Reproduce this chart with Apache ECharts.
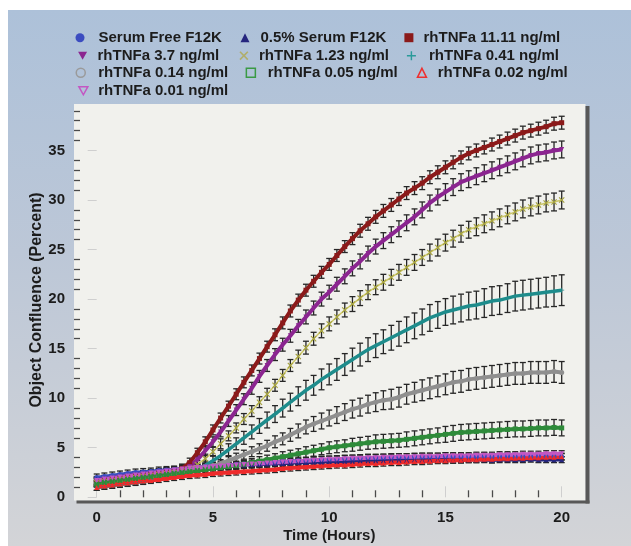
<!DOCTYPE html>
<html>
<head>
<meta charset="utf-8">
<script src="https://cdn.jsdelivr.net/npm/echarts@6.0.0/dist/echarts.min.js"></script>
<style>
html,body{margin:0;padding:0;background:#fff;}
#chart{width:631px;height:546px;}
</style>
</head>
<body>
<div id="chart"></div>
<script>
// ---------------- DATA ----------------
const times = [0,0.33,0.67,1,1.33,1.67,2,2.33,2.67,3,3.33,3.67,4,4.33,4.67,5,5.33,5.67,6,6.33,6.67,7,7.33,7.67,8,8.33,8.67,9,9.33,9.67,10,10.33,10.67,11,11.33,11.67,12,12.33,12.67,13,13.33,13.67,14,14.33,14.67,15,15.33,15.67,16,16.33,16.67,17,17.33,17.67,18,18.33,18.67,19,19.33,19.67,20];

const seriesNames = ['Serum Free F12K','0.5% Serum F12K','rhTNFa 11.11 ng/ml','rhTNFa 3.7 ng/ml','rhTNFa 1.23 ng/ml','rhTNFa 0.41 ng/ml','rhTNFa 0.14 ng/ml','rhTNFa 0.05 ng/ml','rhTNFa 0.02 ng/ml','rhTNFa 0.01 ng/ml'];

const serumFree = [2.0,2.1,2.2,2.3,2.4,2.5,2.55,2.6,2.7,2.75,2.8,2.9,3.0,
  3.05,3.1,3.15,3.2,3.25,3.3,3.35,3.4,3.45,3.5,3.55,3.6,
  3.65,3.7,3.7,3.75,3.8,3.8,3.85,3.9,3.9,3.95,4.0,4.0,
  4.0,4.05,4.05,4.05,4.1,4.1,4.1,4.1,4.15,4.1,4.1,4.1,
  4.1,4.15,4.1,4.1,4.15,4.1,4.1,4.1,4.15,4.1,4.1,4.1];
const serum05 = [1.8,1.9,2.0,2.1,2.2,2.3,2.4,2.45,2.55,2.6,2.7,2.8,2.9,
  2.95,3.0,3.05,3.1,3.15,3.2,3.25,3.3,3.3,3.35,3.4,3.4,
  3.45,3.5,3.5,3.55,3.55,3.6,3.6,3.65,3.65,3.7,3.7,3.7,
  3.7,3.75,3.75,3.75,3.8,3.75,3.8,3.8,3.8,3.75,3.8,3.8,
  3.8,3.8,3.75,3.8,3.8,3.8,3.8,3.85,3.8,3.8,3.8,3.8];
const tnf1111 = [1.5,1.7,1.8,1.9,2.0,2.1,2.2,2.3,2.4,2.5,2.6,2.9,
  3.5,4.5,5.6,6.8,8.0,9.2,10.4,11.6,12.8,14.0,15.2,16.4,17.6,18.8,19.9,20.9,21.8,22.7,23.5,24.4,25.3,26.1,26.9,27.6,28.3,28.9,29.5,30.1,30.7,31.2,31.7,32.3,32.8,33.3,33.8,34.3,34.7,35.0,35.3,35.6,35.9,36.2,36.5,36.8,37.0,37.2,37.4,37.7,37.8];
const tnf37 = [1.6,1.8,1.9,2.0,2.1,2.2,2.3,2.4,2.5,2.6,2.7,2.8,
  3.1,3.8,4.7,5.6,6.6,7.7,8.8,9.9,11.0,12.2,13.3,14.4,15.4,16.3,17.3,18.2,19.1,20.0,20.7,21.5,22.3,23.1,23.8,24.6,25.3,25.9,26.5,27.1,27.7,28.3,29.0,29.7,30.3,30.8,31.3,31.8,32.1,32.4,32.7,33.0,33.3,33.6,33.9,34.2,34.5,34.7,34.8,35.0,35.1];
const tnf123 = [1.5,1.6,1.7,1.8,1.9,2.0,2.1,2.2,2.3,2.4,2.5,2.7,
  2.9,3.3,3.9,4.6,5.4,6.2,7.0,7.9,8.7,9.6,10.4,11.3,12.3,13.3,14.2,15.1,16.0,16.8,17.5,18.2,18.9,19.5,20.1,20.7,21.2,21.7,22.2,22.7,23.2,23.7,24.2,24.7,25.2,25.7,26.1,26.6,27.0,27.3,27.6,27.9,28.2,28.5,28.8,29.1,29.3,29.5,29.7,29.8,30.0];
const tnf041 = [1.0,1.1,1.2,1.3,1.4,1.5,1.6,1.8,2.0,2.2,2.4,2.6,
  2.8,2.9,3.2,3.7,4.2,4.8,5.4,6.0,6.6,7.2,7.8,8.4,9.0,9.6,10.2,10.8,11.3,11.9,12.4,12.9,13.4,13.9,14.4,14.9,15.3,15.7,16.1,16.5,16.9,17.3,17.7,18.1,18.4,18.7,18.9,19.1,19.3,19.4,19.6,19.8,19.9,20.1,20.3,20.4,20.5,20.6,20.7,20.8,20.9];
const tnf014 = [1.4,1.5,1.6,1.7,1.8,1.9,2.0,2.1,2.2,2.3,2.5,2.6,
  2.8,2.9,3.0,3.2,3.4,3.7,4.0,4.3,4.6,4.9,5.2,5.6,5.9,6.3,6.7,7.1,7.4,7.7,8.0,8.3,8.6,8.9,9.1,9.4,9.6,9.8,9.9,10.1,10.4,10.6,10.8,11.0,11.2,11.4,11.6,11.7,11.9,12.0,12.1,12.2,12.3,12.4,12.5,12.5,12.6,12.6,12.6,12.7,12.6];
const tnf005 = [1.3,1.5,1.6,1.7,1.8,1.9,2.0,2.1,2.2,2.3,2.4,2.5,
  2.6,2.7,2.8,2.9,3.0,3.1,3.2,3.35,3.5,3.65,3.8,3.95,4.1,4.25,4.4,4.55,4.7,4.85,5.0,5.1,5.2,5.3,5.4,5.5,5.6,5.65,5.7,5.75,5.85,5.95,6.05,6.15,6.25,6.35,6.45,6.55,6.6,6.65,6.7,6.75,6.8,6.85,6.9,6.9,6.95,7.0,7.0,7.05,7.0];
const tnf002 = [1.0,1.15,1.25,1.35,1.45,1.55,1.65,1.7,1.8,1.9,2.0,2.1,2.2,
  2.25,2.3,2.4,2.45,2.5,2.55,2.6,2.65,2.7,2.75,2.8,2.9,
  2.95,3.0,3.05,3.1,3.15,3.2,3.25,3.25,3.3,3.35,3.4,3.4,
  3.45,3.5,3.5,3.55,3.6,3.6,3.65,3.7,3.7,3.75,3.75,3.8,
  3.8,3.85,3.85,3.9,3.9,3.95,3.95,4.0,4.0,4.05,4.05,4.1];
const tnf001 = [1.7,1.85,1.95,2.05,2.15,2.25,2.35,2.45,2.55,2.65,2.75,2.85,2.95,
  3.0,3.05,3.1,3.15,3.2,3.25,3.3,3.35,3.4,3.45,3.5,3.55,
  3.6,3.65,3.7,3.75,3.8,3.85,3.85,3.9,3.95,3.95,4.0,4.0,
  4.05,4.05,4.1,4.1,4.1,4.15,4.15,4.15,4.2,4.2,4.2,4.2,
  4.25,4.25,4.25,4.3,4.3,4.3,4.35,4.35,4.35,4.4,4.4,4.4];

// error half-widths (percent)
const errSF = [0.35,0.35,0.35,0.35,0.35,0.35,0.35,0.35,0.35,0.35,
  0.35,0.35,0.35,0.35,0.35,0.35,0.35,0.35,0.35,0.35,
  0.35,0.35,0.35,0.35,0.35,0.35,0.35,0.35,0.35,0.35,
  0.35,0.35,0.35,0.35,0.35,0.35,0.35,0.35,0.35,0.35,
  0.35,0.35,0.35,0.35,0.35,0.35,0.35,0.35,0.35,0.35,
  0.35,0.35,0.35,0.35,0.35,0.35,0.35,0.35,0.35,0.35,0.35];
const err05 = [0.3,0.3,0.3,0.3,0.3,0.3,0.3,0.3,0.3,0.3,
  0.3,0.3,0.3,0.3,0.3,0.3,0.3,0.3,0.3,0.3,
  0.3,0.3,0.3,0.3,0.3,0.3,0.3,0.3,0.3,0.3,
  0.3,0.3,0.3,0.3,0.3,0.3,0.3,0.3,0.3,0.3,
  0.3,0.3,0.3,0.3,0.3,0.3,0.3,0.3,0.3,0.3,
  0.3,0.3,0.3,0.3,0.3,0.3,0.3,0.3,0.3,0.3,0.3];
const err1111 = [0.4,0.4,0.4,0.4,0.4,0.4,0.4,0.4,0.4,0.4,0.4,0.45,0.45,
  0.45,0.5,0.5,0.5,0.5,0.55,0.55,0.55,0.55,0.55,0.6,0.6,
  0.6,0.6,0.6,0.6,0.6,0.6,0.6,0.6,0.6,0.65,0.65,0.65,
  0.65,0.65,0.65,0.65,0.65,0.65,0.65,0.65,0.65,0.65,0.65,0.65,
  0.65,0.65,0.65,0.65,0.65,0.65,0.65,0.65,0.65,0.65,0.65,0.65];
const err37 = [0.4,0.4,0.4,0.4,0.4,0.4,0.4,0.4,0.4,0.4,0.4,0.45,0.45,
  0.45,0.5,0.5,0.5,0.55,0.55,0.55,0.6,0.6,0.6,0.6,0.65,
  0.65,0.65,0.7,0.7,0.7,0.7,0.7,0.75,0.75,0.75,0.75,0.75,
  0.8,0.8,0.8,0.8,0.8,0.8,0.8,0.8,0.85,0.85,0.85,0.85,
  0.85,0.85,0.85,0.85,0.85,0.85,0.85,0.85,0.85,0.85,0.85,0.85];
const err123 = [0.35,0.35,0.35,0.35,0.35,0.35,0.35,0.35,0.35,0.35,0.35,0.4,0.4,
  0.4,0.45,0.45,0.5,0.5,0.5,0.55,0.55,0.55,0.6,0.6,0.6,
  0.6,0.65,0.65,0.65,0.7,0.7,0.7,0.7,0.75,0.75,0.75,0.75,
  0.8,0.8,0.8,0.8,0.8,0.8,0.85,0.85,0.85,0.85,0.85,0.85,
  0.9,0.9,0.9,0.9,0.9,0.9,0.9,0.9,0.9,0.9,0.9,0.9];
const err041 = [0.3,0.3,0.3,0.3,0.3,0.3,0.3,0.3,0.3,0.3,0.3,0.35,0.35,
  0.4,0.45,0.5,0.55,0.6,0.6,0.65,0.7,0.75,0.8,0.85,0.9,
  0.9,0.95,1.0,1.0,1.05,1.05,1.1,1.1,1.15,1.15,1.2,1.2,
  1.2,1.25,1.25,1.3,1.3,1.3,1.35,1.35,1.35,1.4,1.4,1.4,
  1.4,1.45,1.45,1.45,1.45,1.5,1.5,1.5,1.5,1.5,1.55,1.55];
const err014 = [0.3,0.3,0.3,0.3,0.3,0.3,0.3,0.3,0.3,0.3,0.3,0.3,0.3,
  0.3,0.35,0.35,0.4,0.4,0.45,0.45,0.5,0.5,0.55,0.6,0.6,
  0.65,0.7,0.7,0.75,0.8,0.8,0.85,0.85,0.9,0.9,0.9,0.95,
  0.95,1.0,1.0,1.0,1.0,1.05,1.05,1.05,1.05,1.1,1.1,1.1,
  1.1,1.1,1.1,1.1,1.1,1.1,1.1,1.1,1.1,1.1,1.1,1.1];
const err005 = [0.3,0.3,0.3,0.3,0.3,0.3,0.3,0.3,0.3,0.3,0.3,0.3,0.3,
  0.3,0.3,0.35,0.35,0.35,0.4,0.4,0.4,0.45,0.45,0.45,0.5,
  0.5,0.5,0.55,0.55,0.55,0.6,0.6,0.6,0.65,0.65,0.65,0.7,
  0.7,0.7,0.7,0.75,0.75,0.75,0.75,0.75,0.8,0.8,0.8,0.8,
  0.8,0.8,0.8,0.8,0.8,0.8,0.8,0.8,0.8,0.8,0.8,0.8];
const err002 = [0.3,0.3,0.3,0.3,0.3,0.3,0.3,0.3,0.3,0.3,
  0.3,0.3,0.3,0.3,0.3,0.3,0.3,0.3,0.3,0.3,
  0.3,0.3,0.3,0.3,0.3,0.3,0.3,0.3,0.3,0.3,
  0.3,0.3,0.3,0.3,0.3,0.3,0.3,0.3,0.3,0.3,
  0.3,0.3,0.3,0.3,0.3,0.3,0.3,0.3,0.3,0.3,
  0.3,0.3,0.3,0.3,0.3,0.3,0.3,0.3,0.3,0.3,0.3];
const err001 = [0.3,0.3,0.3,0.3,0.3,0.3,0.3,0.3,0.3,0.3,
  0.3,0.3,0.3,0.3,0.3,0.3,0.3,0.3,0.3,0.3,
  0.3,0.3,0.3,0.3,0.3,0.3,0.3,0.3,0.3,0.3,
  0.3,0.3,0.3,0.3,0.3,0.3,0.3,0.3,0.3,0.3,
  0.3,0.3,0.3,0.3,0.3,0.3,0.3,0.3,0.3,0.3,
  0.3,0.3,0.3,0.3,0.3,0.3,0.3,0.3,0.3,0.3,0.3];

const values = [serumFree, serum05, tnf1111, tnf37, tnf123, tnf041, tnf014, tnf005, tnf002, tnf001];
const errors = [errSF, err05, err1111, err37, err123, err041, err014, err005, err002, err001];

// ---------------- STYLES ----------------
const INV_TRI = 'path://M0,0L10,0L5,9Z';
const X_MARK = 'path://M0,1.3L1.3,0L5,3.7L8.7,0L10,1.3L6.3,5L10,8.7L8.7,10L5,6.3L1.3,10L0,8.7L3.7,5Z';
const PLUS = 'path://M4.2,0H5.8V4.2H10V5.8H5.8V10H4.2V5.8H0V4.2H4.2Z';

const styles = [
  {color:'#3b4cc0', line:'#3b4cc0', symbol:'circle', width:3.5, size:5, lg:{icon:'circle', fill:'#3b4cc0'}},
  {color:'#25257e', line:'#25257e', symbol:'triangle', width:3.5, size:5, lg:{icon:'triangle', fill:'#25257e'}},
  {color:'#8b1a1a', line:'#8b1a1a', symbol:'rect', width:4, size:5, lg:{icon:'rect', fill:'#8b1a1a'}},
  {color:'#8b2590', line:'#8b2590', symbol:INV_TRI, width:4, size:5, lg:{icon:INV_TRI, fill:'#8b2590'}},
  {color:'#a3a03c', line:'#cdc86a', symbol:X_MARK, width:1.5, size:6, lg:{icon:X_MARK, fill:'#b0ae6c'}},
  {color:'#1e8c8c', line:'#1e8c8c', symbol:PLUS, width:3.5, size:5, lg:{icon:PLUS, fill:'#2a9a9a'}},
  {color:'#8f8f8f', line:'#8f8f8f', symbol:'circle', width:4, size:5, lg:{icon:'circle', stroke:'#9a9a9a'}},
  {color:'#2e8b3a', line:'#2e8b3a', symbol:'rect', width:4, size:5, lg:{icon:'rect', stroke:'#3a9a44'}},
  {color:'#ee2b2b', line:'#ee2b2b', symbol:'triangle', width:4, size:5, lg:{icon:'triangle', stroke:'#ee3030'}},
  {color:'#c357c3', line:'#c357c3', symbol:INV_TRI, width:4, size:5, lg:{icon:INV_TRI, stroke:'#c357c3'}}
];

// legend item placement: marker centre x, text start x, row centre y
const legendPos = [
  {mx:80, tx:98.5, cy:37.7},
  {mx:245, tx:260.5, cy:37.7},
  {mx:408.9, tx:423.5, cy:37.7},
  {mx:82.6, tx:97.5, cy:55.7},
  {mx:243.9, tx:259, cy:55.7},
  {mx:411.4, tx:429, cy:55.7},
  {mx:80, tx:97.5, cy:72.8},
  {mx:250.1, tx:267, cy:72.8},
  {mx:421.2, tx:437, cy:72.8},
  {mx:82.6, tx:97.5, cy:90.7}
];

const FONT = "'Liberation Sans', Arial, sans-serif";
const TXT = '#1c1c1c';
const ICON = 9;
const BASE_GAP = 5;

const legends = seriesNames.map((name, i) => {
  const p = legendPos[i], lg = styles[i].lg;
  const itemStyle = lg.fill ? {color: lg.fill, borderWidth: 0}
                            : {color: 'rgba(0,0,0,0)', borderColor: lg.stroke, borderWidth: 1.5};
  const extra = Math.max(0, p.tx - (p.mx + ICON / 2) - BASE_GAP);
  return {
    left: p.mx - ICON / 2, top: p.cy - 9, padding: 0,
    itemWidth: ICON, itemHeight: ICON,
    itemTextGap: BASE_GAP,
    textStyle: {color: TXT, fontSize: 15, fontWeight: 'bold', fontFamily: FONT, lineHeight: 18,
                padding: [0, 0, 0, extra]},
    data: [{name: name, icon: lg.icon, itemStyle: itemStyle}]
  };
});

const lineSeries = seriesNames.map((name, i) => ({
  name: name, type: 'line', z: 3,
  data: times.map((t, k) => [t, values[i][k]]),
  symbol: styles[i].symbol, symbolSize: styles[i].size, showSymbol: true,
  itemStyle: {color: styles[i].color},
  lineStyle: {color: styles[i].line, width: styles[i].width},
  emphasis: {disabled: true}
}));

const errSeries = seriesNames.map((name, i) => ({
  name: name, type: 'custom', z: 2,
  data: times.map((t, k) => [t, values[i][k], errors[i][k]]),
  encode: {x: 0, y: 1},
  renderItem: function (params, api) {
    const x = api.value(0), y = api.value(1), e = api.value(2);
    const top = api.coord([x, y + e]);
    const bot = api.coord([x, y - e]);
    const hw = 3;
    const st = {stroke: '#262626', lineWidth: 1.3};
    return {
      type: 'group',
      children: [
        {type: 'line', shape: {x1: top[0], y1: top[1], x2: bot[0], y2: bot[1]}, style: st},
        {type: 'line', shape: {x1: top[0] - hw, y1: top[1], x2: top[0] + hw, y2: top[1]}, style: st},
        {type: 'line', shape: {x1: bot[0] - hw, y1: bot[1], x2: bot[0] + hw, y2: bot[1]}, style: st}
      ]
    };
  },
  emphasis: {disabled: true}
}));

const chart = echarts.init(document.getElementById('chart'), null, {renderer: 'canvas'});
chart.setOption({
  animation: false,
  backgroundColor: '#ffffff',
  legend: legends,
  grid: {left: 96.7, top: 100.9, width: 465, height: 396.4, containLabel: false},
  xAxis: {
    type: 'value', min: 0, max: 20, interval: 5, offset: 3,
    axisLine: {show: false},
    axisTick: {show: true, inside: true, length: 11, lineStyle: {color: '#cfcfcf', width: 1}},
    minorTick: {show: true, splitNumber: 5, length: 7, lineStyle: {color: '#4a4a4a', width: 1.3}},
    splitLine: {show: false},
    axisLabel: {color: TXT, fontSize: 15, fontWeight: 'bold', fontFamily: FONT, margin: 10}
  },
  yAxis: [
    {
      type: 'value', min: 0, max: 40, interval: 5, offset: 22.7,
      axisLine: {show: false},
      axisTick: {show: true, inside: false, length: 9, lineStyle: {color: '#cfcfcf', width: 1}},
      splitLine: {show: false},
      axisLabel: {color: TXT, fontSize: 15, fontWeight: 'bold', fontFamily: FONT, margin: 9, showMaxLabel: false}
    },
    {
      type: 'value', min: 0, max: 40, interval: 5, offset: 22.7, position: 'left',
      axisLine: {show: false},
      axisTick: {show: false, inside: true},
      minorTick: {show: true, splitNumber: 5, length: 6, lineStyle: {color: '#4a4a4a', width: 1.3}},
      splitLine: {show: false},
      axisLabel: {show: false}
    }
  ],
  graphic: [
    {type: 'rect', z: -10, silent: true, shape: {x: 8, y: 10, width: 623, height: 536},
      style: {fill: {type: 'linear', x: 0, y: 0, x2: 0, y2: 1,
        colorStops: [{offset: 0, color: '#adc1d9'}, {offset: 0.45, color: '#bcc7d7'}, {offset: 1, color: '#d3d4d7'}]}}},
    {type: 'rect', z: -9, silent: true, shape: {x: 74, y: 104, width: 511.5, height: 396.5}, style: {fill: '#f1f1ed'}},
    {type: 'rect', z: -8, silent: true, shape: {x: 585.5, y: 106, width: 4, height: 397.5}, style: {fill: '#585858'}},
    {type: 'rect', z: -8, silent: true, shape: {x: 76.5, y: 500.5, width: 513, height: 3}, style: {fill: '#585858'}},
    {type: 'text', z: 5, silent: true, x: 329.3, y: 536,
      style: {text: 'Time (Hours)', fill: TXT, font: "bold 15px 'Liberation Sans', Arial, sans-serif", textAlign: 'center', textVerticalAlign: 'middle'}},
    {type: 'text', z: 5, silent: true, x: 36.5, y: 300, rotation: Math.PI / 2,
      style: {text: 'Object Confluence (Percent)', fill: TXT, font: "bold 16px 'Liberation Sans', Arial, sans-serif", textAlign: 'center', textVerticalAlign: 'middle'}}
  ],
  series: lineSeries.concat(errSeries)
});
</script>
</body>
</html>
